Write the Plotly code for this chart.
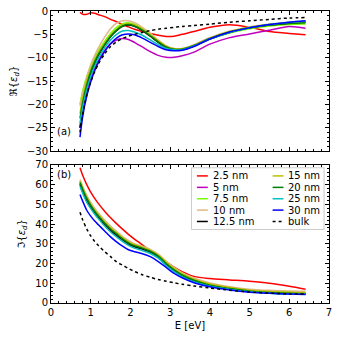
import plotly.graph_objects as go
from plotly.subplots import make_subplots

# photon energy grid [eV]
energy = [0.73, 0.8, 0.9, 1.0, 1.1, 1.2, 1.35, 1.5, 1.65, 1.8, 1.95, 2.1, 2.3,
          2.5, 2.7, 2.9, 3.1, 3.3, 3.6, 4.0, 4.5, 5.0, 5.5, 6.0, 6.41]

labels = ["2.5 nm", "5 nm", "7.5 nm", "10 nm", "12.5 nm",
          "15 nm", "20 nm", "25 nm", "30 nm", "bulk"]
colors = ["#ff0000", "#bf00bf", "#7cfc00", "#deb887", "#000000",
          "#bfbf00", "#008000", "#00bfbf", "#0000ff", "#000000"]
x_ticks = [0, 1, 2, 3, 4, 5, 6, 7]

# real part of the permittivity
re_2p5 = [-0.3, -0.7, -0.7, -0.4, -0.5, -0.8, -1.2, -1.8, -2.3, -2.9, -3.4, -3.9, -4.4,
          -4.8, -5.2, -5.45, -5.4, -5.0, -4.4, -3.5, -2.95, -3.5, -4.4, -4.8, -5.1]
re_5 = [-25, -21, -17.2, -14.5, -12.3, -10.6, -8.5, -7.0, -6.2, -5.9, -6.1, -6.7, -7.7,
        -8.7, -9.5, -9.9, -9.9, -9.6, -8.8, -7.1, -5.7, -4.9, -4.1, -3.3, -3.7]
re_7p5 = [-20, -17, -14, -11.8, -10, -8.4, -6.5, -4.8, -3.5, -2.7, -2.5, -2.8, -3.7,
          -5.0, -6.4, -7.6, -8.2, -8.2, -7.4, -6.0, -4.7, -3.8, -3.2, -2.9, -2.8]
re_10 = [-20.3, -17.5, -14.3, -11.5, -9.5, -7.8, -5.6, -3.8, -2.6, -2.1, -2.1, -2.5, -3.5,
         -4.8, -6.2, -7.4, -8.0, -8.0, -7.2, -5.7, -4.3, -3.4, -2.8, -2.4, -2.2]
re_12p5 = [-25, -21, -16.5, -13.5, -11.2, -9.4, -7.3, -5.5, -4.2, -3.3, -3.0, -3.3, -4.2,
           -5.4, -6.7, -7.8, -8.3, -8.3, -7.5, -6.0, -4.6, -3.6, -3.0, -2.6, -2.4]
re_15 = [-22, -18.5, -15, -12.5, -10.5, -8.8, -6.9, -5.2, -3.9, -3.0, -2.75, -3.0, -3.9,
         -5.1, -6.4, -7.6, -8.1, -8.1, -7.3, -5.8, -4.4, -3.5, -2.9, -2.6, -2.4]
re_20 = [-23, -19.5, -15.8, -13, -10.9, -9.2, -7.2, -5.4, -4.1, -3.2, -2.9, -3.2, -4.1,
         -5.3, -6.6, -7.7, -8.2, -8.2, -7.4, -5.9, -4.5, -3.6, -3.0, -2.7, -2.5]
re_25 = [-24, -20.5, -16.8, -14, -11.8, -10, -7.9, -6.2, -5.0, -4.3, -4.2, -4.5, -5.2,
         -6.2, -7.2, -8.0, -8.3, -8.3, -7.5, -6.0, -4.6, -3.6, -2.9, -2.4, -2.2]
re_30 = [-27, -22.5, -18.2, -15.2, -12.8, -10.9, -8.7, -7.0, -5.8, -5.1, -4.9, -5.1, -5.8,
         -6.7, -7.6, -8.3, -8.5, -8.4, -7.6, -6.0, -4.5, -3.6, -2.9, -2.4, -2.1]
re_bulk = [-26, -22, -18, -15.2, -13, -11.2, -9.2, -7.6, -6.6, -5.9, -5.4, -5.0, -4.6,
           -4.2, -3.9, -3.7, -3.5, -3.3, -3.1, -2.8, -2.4, -2.1, -1.8, -1.5, -1.4]

# imaginary part of the permittivity
im_2p5 = [68.5, 64.6, 60.0, 56.2, 53.0, 50.2, 46.5, 43.2, 40.2, 37.4, 34.8, 32.4, 29.5,
          26.5, 23.6, 20.8, 18.2, 15.9, 13.5, 12.4, 11.7, 11.0, 10.0, 8.5, 7.0]
im_5 = [60.5, 57, 52.5, 49, 46, 43.5, 40, 37, 34.5, 32.2, 30.2, 28.7, 27.5,
        26, 23.6, 19.8, 16.6, 14, 11.3, 8.9, 7.2, 5.9, 5.2, 4.8, 4.6]
im_7p5 = [62, 58.5, 54, 50.5, 47.5, 45, 41.5, 38.5, 35.8, 33.3, 31.2, 29.6, 28.3,
          26.7, 24.3, 20.6, 17.4, 14.8, 12.1, 9.6, 7.8, 6.5, 5.9, 5.6, 5.4]
im_10 = [62.5, 59, 54.5, 51, 48, 45.5, 42, 39, 36.3, 33.8, 31.7, 30.1, 28.8,
         27.2, 24.8, 21.2, 18, 15.4, 12.7, 10.2, 8.3, 7.0, 6.4, 6.1, 6.0]
im_12p5 = [60, 56.5, 52, 48.7, 45.8, 43.3, 39.8, 36.8, 34.3, 32, 30, 28.5, 27.3,
           25.8, 23.4, 19.6, 16.4, 13.8, 11.1, 8.7, 7.0, 5.8, 5.1, 4.7, 4.5]
im_15 = [61.5, 58, 53.5, 50, 47, 44.5, 41, 38, 35.5, 33, 31, 29.5, 28.3,
         26.7, 24.3, 20.6, 17.4, 14.8, 12.1, 9.6, 7.8, 6.5, 5.8, 5.4, 5.2]
im_20 = [61, 57.5, 53, 49.5, 46.5, 44, 40.5, 37.5, 35, 32.5, 30.5, 29, 27.8,
         26.2, 23.8, 20, 16.8, 14.2, 11.5, 9.0, 7.3, 6.0, 5.3, 4.9, 4.7]
im_25 = [59, 55.5, 51, 47.8, 45, 42.5, 39, 36, 33.5, 31.2, 29.2, 27.8, 26.6,
         25.1, 22.7, 19, 15.9, 13.4, 10.8, 8.5, 6.9, 5.7, 5.0, 4.6, 4.4]
im_30 = [55, 51.5, 47, 44, 41.5, 39.5, 36.5, 33.5, 31, 28.8, 27, 26, 25,
         23.5, 21, 18, 15, 12.8, 10.3, 8.2, 6.6, 5.5, 4.9, 4.5, 4.3]
im_bulk = [46, 42, 37.5, 34, 31.2, 29, 26, 23.5, 20.8, 19.2, 17.5, 16.0, 14.3,
           13.0, 11.9, 11.0, 10.2, 9.5, 8.6, 7.6, 6.5, 5.6, 5.0, 4.6, 4.5]

re_all = [re_2p5, re_5, re_7p5, re_10, re_12p5, re_15, re_20, re_25, re_30, re_bulk]
im_all = [im_2p5, im_5, im_7p5, im_10, im_12p5, im_15, im_20, im_25, im_30, im_bulk]

W, H = 337, 340
ML, MR, MT, MB = 51, 5, 5, 37
PW, PH = W - ML - MR, H - MT - MB

def px(x):
    return (x - ML) / PW

def py(y):
    return (H - MB - y) / PH

fig = make_subplots(rows=2, cols=1, shared_xaxes=True)

for i, lab in enumerate(labels):
    dash = 'dot' if lab == 'bulk' else 'solid'
    line = dict(color=colors[i], width=1.5, dash=dash, shape='spline', smoothing=0.8)
    fig.add_trace(go.Scatter(x=energy, y=re_all[i], mode='lines', name=lab,
                             line=line, showlegend=False), row=1, col=1)
    fig.add_trace(go.Scatter(x=energy, y=im_all[i], mode='lines', name=lab,
                             line=line, showlegend=False), row=2, col=1)

axis_style = dict(showline=True, linecolor='black', linewidth=1, mirror='allticks',
                  ticks='inside', ticklen=4, tickcolor='black', showgrid=False,
                  zeroline=False, tickfont=dict(size=10, color='black'),
                  ticklabeloverflow='allow')

fig.update_xaxes(range=[0, 7], tickmode='array', tickvals=x_ticks,
                 minor=dict(dtick=0.2, tick0=0, ticks='inside', ticklen=2, tickcolor='black'),
                 **axis_style)
fig.update_xaxes(showticklabels=False, row=1, col=1)
fig.update_xaxes(title=dict(text='E [eV]', font=dict(size=10, color='black'), standoff=4),
                 row=2, col=1)

fig.update_yaxes(range=[-30, 0], dtick=5, tick0=0,
                 minor=dict(dtick=1, ticks='inside', ticklen=2, tickcolor='black'),
                 title=dict(text='ℜ{<i>ε<sub>d</sub></i>}', font=dict(size=10, color='black'), standoff=7),
                 row=1, col=1, **axis_style)
fig.update_yaxes(range=[0, 70], dtick=10, tick0=0,
                 minor=dict(dtick=2, ticks='inside', ticklen=2, tickcolor='black'),
                 title=dict(text='ℑ{<i>ε<sub>d</sub></i>}', font=dict(size=10, color='black'), standoff=7),
                 row=2, col=1, **axis_style)

fig.update_layout(
    width=W, height=H,
    margin=dict(l=ML, r=MR, t=MT, b=MB),
    paper_bgcolor='white', plot_bgcolor='white',
    font=dict(family='DejaVu Sans', size=10, color='black'),
    xaxis=dict(domain=[0, 1]), xaxis2=dict(domain=[0, 1]),
    yaxis=dict(domain=[py(148), 1]), yaxis2=dict(domain=[0, py(162)]),
    showlegend=False,
)

# panel labels
fig.add_annotation(x=0.1, y=-25.8, xref='x', yref='y', text='(a)', showarrow=False,
                   xanchor='left', font=dict(size=10))
fig.add_annotation(x=0.1, y=65, xref='x2', yref='y2', text='(b)', showarrow=False,
                   xanchor='left', font=dict(size=10))

# legend box (two columns, drawn by hand to match the compact layout)
fig.add_shape(type='rect', xref='paper', yref='paper',
              x0=px(193), x1=px(327), y0=py(228), y1=py(165),
              line=dict(color='#cccccc', width=1), fillcolor='rgba(255,255,255,0.85)')
row_y = [173.3, 185, 196.6, 208.2, 219.8]
for i, lab in enumerate(labels):
    col, row = divmod(i, 5)
    lx0, lx1, tx = (198.5, 209.5, 213) if col == 0 else (275, 286, 289)
    yy = py(row_y[row])
    dash = 'dot' if lab == 'bulk' else 'solid'
    fig.add_shape(type='line', xref='paper', yref='paper', x0=px(lx0), x1=px(lx1),
                  y0=yy, y1=yy, line=dict(color=colors[i], width=1.5, dash=dash))
    fig.add_annotation(x=px(tx), y=yy, xref='paper', yref='paper', text=lab,
                       showarrow=False, xanchor='left', yanchor='middle',
                       font=dict(size=10, color='black'))

# the page's default body margin would push the figure off the window edge
fig.write_html("out.html", config={'displayModeBar': False},
               post_script="document.body.style.margin='0px';")
